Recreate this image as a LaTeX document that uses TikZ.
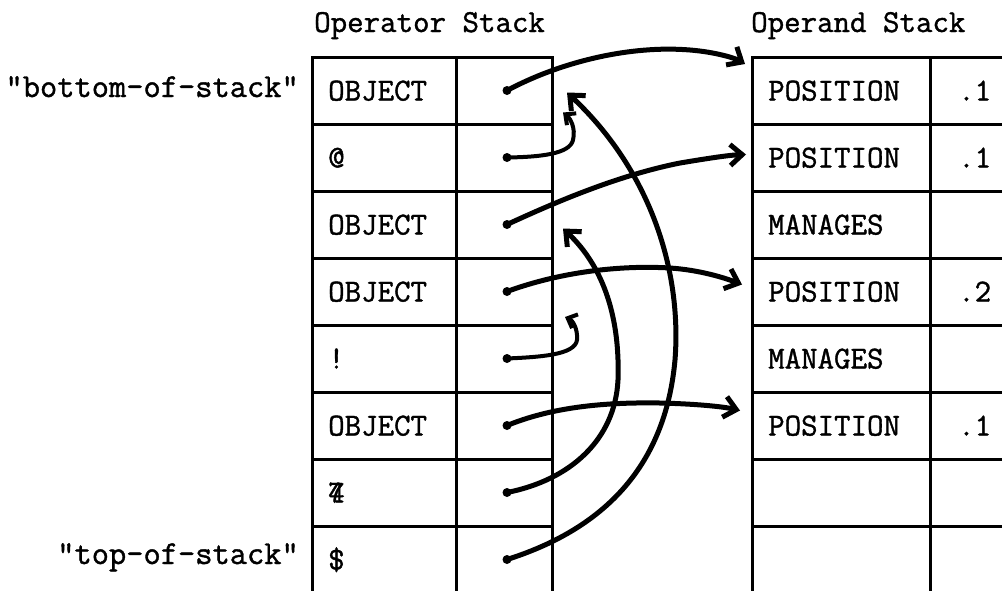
\documentclass[tikz,border=0pt]{standalone}
\usepackage{fontspec}
\newfontfamily\typewriter{Latin Modern Mono}[FakeBold=1.2]
\usetikzlibrary{arrows.meta,calc}
\begin{document}
\begin{tikzpicture}[x=1pt,y=-1pt,
  cell/.style={draw, line width=3pt, minimum height=67pt, inner sep=0pt,
               outer sep=0pt, anchor=north west},
  txt/.style={font=\typewriter\fontsize{32}{36}\selectfont, inner sep=0pt,
              anchor=base west},
  side/.style={font=\typewriter\fontsize{33.5}{38}\selectfont, inner sep=0pt,
               anchor=base east},
  link/.style={line width=5pt, line cap=round,
               -{Straight Barb[length=12pt,width=21pt]}},
  hook/.style={line width=4pt, line cap=round,
               -{Straight Barb[length=8pt,width=15pt]}},
  dot/.style={fill=black}]
\useasboundingbox (0,0) rectangle (1002,590);

% the two stacks, eight rows each, open at the bottom
\foreach \i in {1,...,8}{
  \node[cell, minimum width=144pt] (o\i)  at (312,{57+67*(\i-1)}) {};
  \node[cell, minimum width=96pt]  (o\i v) at (456,{57+67*(\i-1)}) {};
  \node[cell, minimum width=178pt] (d\i)  at (752,{57+67*(\i-1)}) {};
  \node[cell, minimum width=130pt] (d\i v) at (930,{57+67*(\i-1)}) {};
}

% headings and side labels
\node[txt] (hop) at (314,32) {Operator Stack};
\node[txt] (hod) at (751,32) {Operand Stack};
\node[side] (bos) at (299,97) {"bottom-of-stack"};
\node[side] (tos) at (299,564) {"top-of-stack"};

% operator entries
\node[txt] (e1) at ($(o1.west)+(16,10)$) {OBJECT};
\node[txt] (e2) at ($(o2.west)+(16,10)$) {@};
\node[txt] (e3) at ($(o3.west)+(16,10)$) {OBJECT};
\node[txt] (e4) at ($(o4.west)+(16,10)$) {OBJECT};
\node[txt] (e5) at ($(o5.west)+(16,10)$) {!};
\node[txt] (e6) at ($(o6.west)+(16,10)$) {OBJECT};
\node[txt] (e7) at ($(o7.west)+(16,10)$) {\makebox[0pt][l]{7}4};
\node[txt] (e8) at ($(o8.west)+(16,10)$) {\$};

% operand entries
\node[txt] (p1) at ($(d1.west)+(16,10)$) {POSITION};
\node[txt] (p2) at ($(d2.west)+(16,10)$) {POSITION};
\node[txt] (p3) at ($(d3.west)+(16,10)$) {MANAGES};
\node[txt] (p4) at ($(d4.west)+(16,10)$) {POSITION};
\node[txt] (p5) at ($(d5.west)+(16,10)$) {MANAGES};
\node[txt] (p6) at ($(d6.west)+(16,10)$) {POSITION};
\node[txt] (w1) at ($(d1v.west)+(28,10)$) {.1};
\node[txt] (w2) at ($(d2v.west)+(28,10)$) {.1};
\node[txt] (w4) at ($(d4v.west)+(28,10)$) {.2};
\node[txt] (w6) at ($(d6v.west)+(28,10)$) {.1};

% start points of the pointers
\foreach \i in {1,...,8}{
  \coordinate (s\i) at ($(o\i v.center)+(3,0)$);
  \fill[dot] (s\i) circle (4.5pt);
}
% end points
\coordinate (t1) at ($(d1.north west)+(-7,7)$);
\coordinate (t2) at ($(o1v.east)+(11,22)$);
\coordinate (t3) at ($(d2.west)+(-6,-3)$);
\coordinate (t4) at ($(d4.west)+(-10,-7)$);
\coordinate (t5) at ($(o4v.south east)+(13,-8)$);
\coordinate (t6) at ($(d6.west)+(-12,-15)$);
\coordinate (t7) at ($(o3v.east)+(11,4)$);
\coordinate (t8) at ($(o1v.east)+(15,2)$);

% pointers
\draw[link] (s1) .. controls (560,62) and (630,45) .. (690,50)
                 .. controls (715,52) and (735,58) .. (t1);
\draw[hook] (s2) .. controls (540,157) and (570,154) .. (573,140)
                 .. controls (576,128) and (570,118) .. (t2);
\draw[link] (s3) .. controls (560,200) and (620,175) .. (680,163)
                 .. controls (710,158) and (730,155) .. (t3);
\draw[link] (s4) .. controls (560,272) and (620,265) .. (670,268)
                 .. controls (700,270) and (725,278) .. (t4);
\draw[hook] (s5) .. controls (540,357) and (575,355) .. (577,340)
                 .. controls (578,328) and (572,320) .. (t5);
\draw[link] (s6) .. controls (550,408) and (600,402) .. (660,403)
                 .. controls (700,404) and (725,407) .. (t6);
\draw[link] (s7) .. controls (570,480) and (615,440) .. (618,380)
                 .. controls (620,320) and (605,268) .. (t7);
\draw[link] (s8) .. controls (600,530) and (665,470) .. (675,360)
                 .. controls (682,270) and (650,170) .. (t8);
\end{tikzpicture}
\end{document}
